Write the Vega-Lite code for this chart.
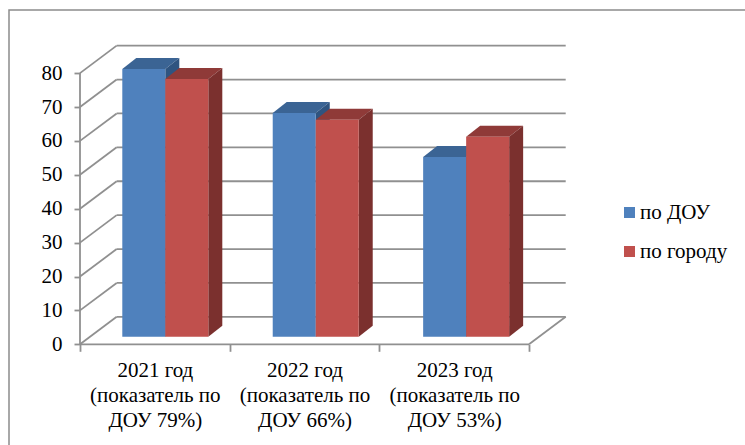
{
"$schema":"https://vega.github.io/schema/vega-lite/v6.json",
"width":738,"height":438,
"autosize":"none",
"padding":{"left":9,"top":10,"right":0,"bottom":0},
"background":"white",
"config":{"view":{"stroke":"#8c8c8c","strokeWidth":1.5},"font":"Liberation Serif"},
"datasets":{
"grid":[{"v":0},{"v":10},{"v":20},{"v":30},{"v":40},{"v":50},{"v":60},{"v":70},{"v":80}],
"bars":[
{"year":2021,"series":"по ДОУ","value":79},
{"year":2021,"series":"по городу","value":76},
{"year":2022,"series":"по ДОУ","value":66},
{"year":2022,"series":"по городу","value":64},
{"year":2023,"series":"по ДОУ","value":53},
{"year":2023,"series":"по городу","value":59}
]},
"layer":[
{"data":{"name":"grid"},
"transform":[{"calculate":"datum.v+8.1","as":"v2"},{"calculate":"0","as":"x0"},{"calculate":"0.245","as":"x1"},{"calculate":"3.245","as":"x2"},{"calculate":"3","as":"x3"}],
"layer":[
{"mark":{"type":"rule","color":"#909090","strokeWidth":1.8},
"encoding":{
"x":{"field":"x0","type":"quantitative","title":null,
"scale":{"domain":[0,3.247],"range":[71,557],"nice":false,"zero":false},
"axis":{"values":[0,0.5,1,1.5,2,2.5,3],"grid":false,"domain":false,"title":null,"orient":"bottom","offset":-103.7,
"tickSize":7,"tickColor":"#909090","tickWidth":1.8,
"tickOpacity":{"condition":{"test":"datum.value*2%2==1","value":0},"value":1},
"labelFont":"Liberation Serif","labelFontSize":21,"labelColor":"#000000","labelLineHeight":25.3,"labelPadding":8,"labelFlush":false,"labelOverlap":false,"labelBound":false,
"labelExpr":"datum.value==0.5?['2021 год','(показатель по','ДОУ 79%)']:datum.value==1.5?['2022 год','(показатель по','ДОУ 66%)']:datum.value==2.5?['2023 год','(показатель по','ДОУ 53%)']:''"}},
"x2":{"field":"x1"},
"y":{"field":"v","type":"quantitative","title":null,
"scale":{"domain":[0,88.35],"range":[334.3,34.8],"nice":false,"zero":false},
"axis":{"values":[0,10,20,30,40,50,60,70,80],"grid":false,"domain":false,"title":null,"orient":"left","offset":-71,
"tickSize":6,"tickColor":"#909090","tickWidth":1.8,
"labelFont":"Liberation Serif","labelFontSize":21,"labelColor":"#000000","labelPadding":12,"labelFlush":false,"labelOverlap":false,"labelBound":false}},
"y2":{"field":"v2"}}},
{"mark":{"type":"rule","color":"#909090","strokeWidth":1.8},
"encoding":{"x":{"field":"x1","type":"quantitative","title":null},"x2":{"field":"x2"},"y":{"field":"v2","type":"quantitative","title":null}}},
{"transform":[{"filter":"datum.v==0"}],
"layer":[
{"mark":{"type":"rule","color":"#909090","strokeWidth":1.8},
"encoding":{"x":{"field":"x0","type":"quantitative","title":null},"x2":{"field":"x3"},"y":{"field":"v","type":"quantitative","title":null}}},
{"mark":{"type":"rule","color":"#909090","strokeWidth":1.8},
"encoding":{"x":{"field":"x3","type":"quantitative","title":null},"x2":{"field":"x2"},"y":{"field":"v","type":"quantitative","title":null},"y2":{"field":"v2"}}},
{"mark":{"type":"rule","color":"#909090","strokeWidth":1.8},
"transform":[{"calculate":"80","as":"vt"}],
"encoding":{"x":{"field":"x0","type":"quantitative","title":null},"y":{"field":"v","type":"quantitative","title":null},"y2":{"field":"vt"}}}
]}
]},
{"data":{"name":"bars"},
"transform":[
{"calculate":"datum.series=='по ДОУ'?0:1","as":"s"},
{"calculate":"(datum.year-2021)*1.005+0.2826+datum.s*0.2873","as":"xl"},
{"calculate":"datum.xl+0.2873","as":"xr"},
{"calculate":"datum.xr+0.0935","as":"xe"},
{"calculate":"2.24","as":"base"},
{"calculate":"datum.value+2.24","as":"top"},
{"calculate":"datum.top+3.24","as":"topb"},
{"calculate":"datum.year+datum.series","as":"id"}
],
"layer":[
{"transform":[{"filter":"datum.s==0"},{"fold":["top","topb"],"as":["k","py"]},{"calculate":"datum.xl+(datum.k=='topb'?0.0935:0)","as":"xa"},{"calculate":"datum.xr+(datum.k=='topb'?0.0935:0)","as":"xb"}],
"mark":{"type":"area","orient":"horizontal","color":"#3B6494"},
"encoding":{"y":{"field":"py","type":"quantitative","title":null},"x":{"field":"xa","type":"quantitative","title":null},"x2":{"field":"xb"},"detail":{"field":"id"}}},
{"transform":[{"filter":"datum.s==0"},{"fold":["xr","xe"],"as":["k","px"]},{"calculate":"datum.base+(datum.k=='xe'?3.24:0)","as":"lo"},{"calculate":"datum.top+(datum.k=='xe'?3.24:0)","as":"hi"}],
"mark":{"type":"area","color":"#2F5480"},
"encoding":{"x":{"field":"px","type":"quantitative","title":null},"y":{"field":"hi","type":"quantitative","title":null},"y2":{"field":"lo"},"detail":{"field":"id"}}},
{"transform":[{"filter":"datum.s==0"}],
"mark":{"type":"rect"},
"encoding":{"x":{"field":"xl","type":"quantitative","title":null},"x2":{"field":"xr"},"y":{"field":"top","type":"quantitative","title":null},"y2":{"field":"base"},
"color":{"field":"series","type":"nominal","scale":{"domain":["по ДОУ","по городу"],"range":["#4F81BD","#C0504D"]},
"legend":{"orient":"none","legendX":610,"legendY":192,"title":null,"symbolType":"square","symbolSize":121,"symbolStrokeWidth":0,"labelFont":"Liberation Serif","labelFontSize":21,"labelColor":"#000000","labelOffset":0,"rowPadding":17,"padding":0}}}},
{"transform":[{"filter":"datum.s==1"},{"fold":["top","topb"],"as":["k","py"]},{"calculate":"datum.xl+(datum.k=='topb'?0.0935:0)","as":"xa"},{"calculate":"datum.xr+(datum.k=='topb'?0.0935:0)","as":"xb"}],
"mark":{"type":"area","orient":"horizontal","color":"#8F3A38"},
"encoding":{"y":{"field":"py","type":"quantitative","title":null},"x":{"field":"xa","type":"quantitative","title":null},"x2":{"field":"xb"},"detail":{"field":"id"}}},
{"transform":[{"filter":"datum.s==1"},{"fold":["xr","xe"],"as":["k","px"]},{"calculate":"datum.base+(datum.k=='xe'?3.24:0)","as":"lo"},{"calculate":"datum.top+(datum.k=='xe'?3.24:0)","as":"hi"}],
"mark":{"type":"area","color":"#7B302E"},
"encoding":{"x":{"field":"px","type":"quantitative","title":null},"y":{"field":"hi","type":"quantitative","title":null},"y2":{"field":"lo"},"detail":{"field":"id"}}},
{"transform":[{"filter":"datum.s==1"}],
"mark":{"type":"rect"},
"encoding":{"x":{"field":"xl","type":"quantitative","title":null},"x2":{"field":"xr"},"y":{"field":"top","type":"quantitative","title":null},"y2":{"field":"base"},
"color":{"field":"series","type":"nominal"}}}
]}
]
}
